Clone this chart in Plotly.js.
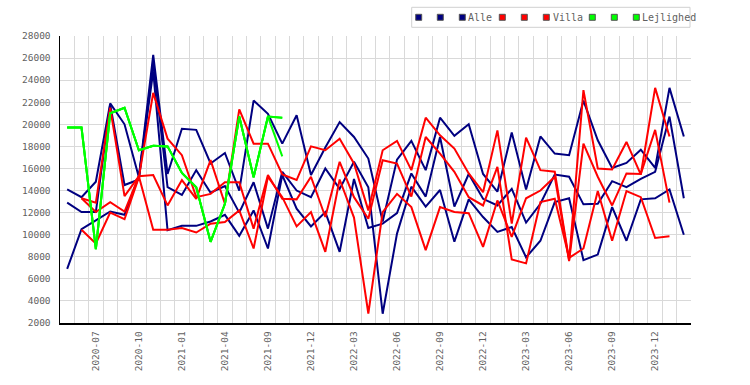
<!DOCTYPE html>
<html><head><meta charset="utf-8">
<script src="https://cdn.plot.ly/plotly-3.0.1.min.js"></script>
<style>html,body{margin:0;padding:0;background:#fff}#chart{width:750px;height:385px}</style>
</head><body><div id="chart"></div>
<script>
// ---- data ----
const months = ["2020-05","2020-06","2020-07","2020-08","2020-09","2020-10","2020-11","2020-12",
  "2021-01","2021-02","2021-03","2021-04","2021-05","2021-06","2021-09","2021-10","2021-11","2021-12",
  "2022-01","2022-02","2022-03","2022-04","2022-05","2022-06","2022-07","2022-08","2022-09","2022-10","2022-11","2022-12",
  "2023-01","2023-02","2023-03","2023-04","2023-05","2023-06","2023-07","2023-08","2023-09","2023-10","2023-11","2023-12",
  "2024-01","2024-02"];
const tickLabels = ["2020-07","2020-10","2021-01","2021-04","2021-09","2021-12","2022-03","2022-06","2022-09","2022-12","2023-03","2023-06","2023-09","2023-12"];

const alle1 = [14100,13400,14800,21900,20000,15200,26300,15500,19600,19500,16450,17400,14000,22150,20950,18250,20820,15400,17900,20200,18850,16900,11200,16800,18500,15850,20600,18950,20000,15500,13900,19250,14100,18900,17350,17200,22150,18550,16050,16500,17700,16050,23300,18900];
const alle2 = [12900,12050,12050,21800,14500,15000,25600,14300,13600,15850,13800,14400,12000,14750,10550,15700,14000,13400,16000,14150,16600,14300,2840,10100,14350,12550,14050,9370,13200,11600,10250,10700,7950,9450,12950,13300,7700,8200,12500,9450,13200,13300,14100,10000];
const alle3 = [6900,10500,11300,12100,11800,15300,24800,10400,10800,10800,11200,11800,9900,12200,8750,15400,12350,10750,12050,8450,15050,10600,11000,11950,15550,13450,18850,12550,15500,13250,12650,14150,11100,12800,15450,15250,12750,12800,14850,14300,15050,15700,20700,13300];

const villa1 = [null,13300,12900,21500,13500,15300,15400,12650,14950,13250,16750,12800,21350,18250,18250,15450,14950,18000,17650,18700,16450,12200,17650,18500,15850,20600,19000,17800,15550,13850,19450,11000,18800,15850,15700,7700,23100,16000,15900,18400,15450,23300,18900,null];
const villa2 = [null,10450,9200,12000,11400,15200,22850,18700,17200,13400,13700,14750,14750,10550,15400,13250,13200,15250,11600,16600,13400,11450,16750,16450,13450,18850,17350,15700,13400,12650,16150,7750,7400,12950,13250,7900,8750,13950,9450,13950,13400,9700,9850,null];
const villa3 = [null,13300,12050,12950,12100,15300,10450,10450,10600,10200,11000,11150,12200,8750,15250,13400,10750,12050,8450,15000,11550,2860,12050,13700,12500,8600,12500,12050,11950,8900,13100,9800,13300,14000,15250,7600,18250,15250,12650,15550,15500,19500,12900,null];

const lejl1 = [19700,19700,8700,21000,21500,17650,18050,18000,15600,14300,9350,12800,20700,15200,20700,20600];
const lejl2 = [19700,19700,8700,21000,21500,17650,18050,18000,15600,14300,9350,12800,20700,15200,20700,17100];
const lejl3 = [19700,19700,8700,21000,21500,17650,18050,18000,15600,14300,9350,12800,20700,15200,20700,20600];

const groupNames = ["Alle","Villa","Lejlighed"];
const colors = ["#000080","#ff0000","#00ff00"];

// ---- traces ----
const series = [[alle1,alle2,alle3],[villa1,villa2,villa3],[lejl1,lejl2,lejl3]];
const traces = [];
series.forEach((grp,g)=>{
  grp.forEach((vals,k)=>{
    traces.push({type:'scatter',mode:'lines',x:months.slice(0,vals.length),y:vals,
      line:{color:colors[g],width:2},showlegend:false,hoverinfo:'skip',
      name:(k===2?groupNames[g]:'')});
  });
});

// legend swatches (three squares per group, label after the third)
const plotL = 60, plotW = 631, plotT = 36, plotH = 287;
const px2x = p => (p - plotL) / plotW;
const px2y = p => (plotT + plotH - p) / plotH;
const swatchCenters = [418.7,440.3,462.3, 502.3,524.3,546.3, 592.3,614.3,636.3];
const labelStarts = [468.3,552.7,642.3];
const legendY = px2y(17.3);
const layout = {
  width:750,height:385,
  margin:{l:plotL,r:750-plotL-plotW,t:plotT,b:385-plotT-plotH,pad:0,autoexpand:false},
  paper_bgcolor:'#ffffff',plot_bgcolor:'#ffffff',
  font:{family:'DejaVu Sans Mono, monospace',size:10,color:'#5f5f5f'},
  showlegend:true,
  xaxis:{type:'category',tickmode:'array',tickvals:months,
    ticktext:months.map(m=>tickLabels.includes(m)?m:''),
    tickson:'boundaries',ticks:'',showgrid:true,gridcolor:'#d9d9d9',gridwidth:1,
    showline:true,linecolor:'#000',linewidth:1.5,zeroline:false,tickangle:-90,
    range:[-0.5,43.5],tickfont:{size:9.5,color:'#5f5f5f'},ticklabelstandoff:3},
  yaxis:{range:[2000,28000],tick0:0,dtick:2000,tickformat:'d',showgrid:true,gridcolor:'#d9d9d9',
    showline:true,linecolor:'#000',linewidth:1.5,zeroline:false,ticks:'',
    tickfont:{size:9.5,color:'#5f5f5f'},ticklabelstandoff:6},
  annotations:groupNames.map((t,g)=>({text:t,xref:'paper',yref:'paper',x:px2x(labelStarts[g]),y:legendY,
    xanchor:'left',yanchor:'middle',showarrow:false,xshift:-2,font:{size:10,color:'#5f5f5f'}})),
  shapes:[{type:'rect',xref:'paper',yref:'paper',x0:px2x(411.7),x1:px2x(690),y0:px2y(27.3),y1:px2y(7.3),
    line:{color:'#d0d0d0',width:1},fillcolor:'rgba(0,0,0,0)'}]
};
swatchCenters.forEach((c,k)=>{
  const id = k===0 ? 'legend' : 'legend'+(k+1);
  layout[id] = {x:px2x(c-20),xanchor:'left',y:legendY,yanchor:'middle',orientation:'h',
    bgcolor:'rgba(0,0,0,0)',borderwidth:0,font:{size:10,color:'#5f5f5f'},itemwidth:30};
  const g = Math.floor(k/3);
  traces.push({type:'scatter',mode:'markers',x:[null],y:[null],name:'',legend:id,showlegend:true,
    hoverinfo:'skip',marker:{symbol:'square',size:6,color:colors[g],line:{color:'#555',width:1}}});
});

Plotly.newPlot('chart',traces,layout,{staticPlot:true,displayModeBar:false});
</script></body></html>
